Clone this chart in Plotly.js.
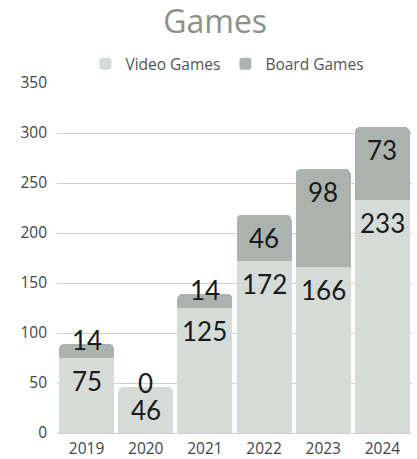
<!DOCTYPE html>
<html><head><meta charset="utf-8">
<script src="https://cdn.plot.ly/plotly-3.0.1.min.js"></script>
<style>html,body{margin:0;padding:0;background:#fff}#chart{width:417px;height:459px}</style>
</head><body><div id="chart"></div>
<script>
const years = ["2019","2020","2021","2022","2023","2024"];
const videoGames = [75,46,125,172,166,233];
const boardGames = [14,0,14,46,98,73];
const yTicks = [0,50,100,150,200,250,300,350];

const labelFont = {family:"Lato, sans-serif", size:26, color:"#1a1a1a"};
const traces = [
  {type:"bar", name:"Video Games", x:years, y:videoGames, textposition:"none",
   marker:{color:"#d5dcd8"}, hoverinfo:"skip"},
  {type:"bar", name:"Board Games", x:years, y:boardGames, textposition:"none",
   marker:{color:"#abb3af"}, hoverinfo:"skip"}
];
const annotations = [];
years.forEach((yr, i) => {
  annotations.push({x:i, y:videoGames[i], xref:"x", yref:"y", text:String(videoGames[i]),
    showarrow:false, yanchor:"top", yshift:-5, font:labelFont});
  const small = boardGames[i] < 30;
  annotations.push({x:i, y:videoGames[i] + boardGames[i], xref:"x", yref:"y", text:String(boardGames[i]),
    showarrow:false, yanchor: small ? "middle" : "top", yshift: small ? 4 : -5, font:labelFont});
});
const layout = {
  width:417, height:459,
  margin:{l:57, r:5, t:83, b:26},
  barmode:"stack", bargap:0.07, barcornerradius:5,
  paper_bgcolor:"#fff", plot_bgcolor:"#fff",
  title:{text:"Games", x:0.516, xref:"container", y:0.952, yref:"container", yanchor:"middle",
         font:{family:"Open Sans, sans-serif", size:32, color:"#8a9288"}},
  legend:{orientation:"h", x:0.48, xanchor:"center", xref:"paper", y:1.005, yanchor:"bottom",
          font:{family:"Open Sans, sans-serif", size:15.5, color:"#555"}, traceorder:"normal"},
  showlegend:true,
  annotations: annotations,
  xaxis:{type:"category", range:[-0.5, years.length - 0.5], tickfont:{family:"Open Sans, sans-serif", size:15.5, color:"#444"},
         showline:false, ticks:"", ticklabelstandoff:4, fixedrange:true},
  yaxis:{range:[0,350], tickvals:yTicks, ticktext:yTicks.map(String),
         tickfont:{family:"Open Sans, sans-serif", size:15.5, color:"#444"},
         gridcolor:"#d0d0d0", gridwidth:1, zeroline:true, zerolinecolor:"#d0d0d0", zerolinewidth:1,
         ticks:"", ticklabelstandoff:9, fixedrange:true}
};
Plotly.newPlot("chart", traces, layout, {displayModeBar:false, staticPlot:true});
</script></body></html>
